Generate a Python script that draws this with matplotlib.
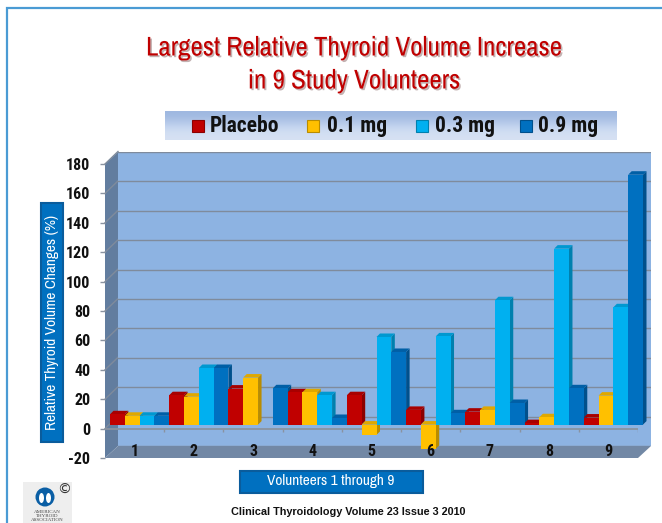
#Largest relative thyroid volume increase, fake 3D bar chart built from stacked axes
import numpy as np
import matplotlib
matplotlib.use('Agg')
import matplotlib.pyplot as plt
import matplotlib.patheffects as pe
from matplotlib import font_manager as fm
from matplotlib.patches import Rectangle, Polygon, Circle, Ellipse

#data
volunteers = ['1', '2', '3', '4', '5', '6', '7', '8', '9']
placebo = [7, 20, 24.5, 22, 20, 10, 8.8, 1, 4.8]
mg_01 = [6, 19, 32, 22, -7, -16.5, 10, 5, 19.7]
mg_03 = [6, 38.5, 0, 20, 59.6, 60, 84.6, 119.7, 79.8]
mg_09 = [6, 38.5, 24.7, 4.5, 49.4, 7.7, 14.7, 24.7, 170]
series_names = ['Placebo', '0.1 mg', '0.3 mg', '0.9 mg']
y_ticks = list(range(-20, 181, 20))

faces = ['#c00000', '#ffc000', '#00b0f0', '#0070c0']
sides = ['#8c0000', '#b98c00', '#0080ae', '#00508c']
caps = ['#a80000', '#dfa800', '#0098d0', '#005fa6']

W, H = 662, 523


#the original text is a narrow Arial, take the first narrow family that is there
def pick_font(names):
    installed = set(f.name for f in fm.fontManager.ttflist)
    for name in names:
        if name in installed:
            return name
    return 'Liberation Sans'


NARROW = pick_font(['Liberation Sans Narrow', 'Archivo Narrow', 'PT Sans Narrow', 'Roboto Condensed'])
#bold text and digits, PT Sans Narrow has old style digits so it comes last
NARROW_BOLD = pick_font(['Liberation Sans Narrow', 'Roboto Condensed', 'PT Sans Narrow'])
fig = plt.figure(figsize=(W / 100, H / 100), dpi=100, facecolor='white')


#helper, makes axes from pixel box (y measured from the top of the picture)
def px_axes(x0, y0, x1, y1, **kw):
    return fig.add_axes([x0 / W, 1 - y1 / H, (x1 - x0) / W, (y1 - y0) / H], **kw)


#page layer in pixel coordinates for frame, boxes, logo, text
page = px_axes(0, 0, W, H, zorder=0)
page.axis('off')
page.plot([7, 7, W], [H, 8, 8], color='#4a9bd4', lw=1.6, solid_joinstyle='miter')

page.text(354, 48, 'Largest Relative Thyroid Volume Increase', color='#c00000', fontsize=19.5,
          family=NARROW, ha='center', va='center',
          path_effects=[pe.withSimplePatchShadow(offset=(1.2, -1.2), alpha=0.3)])
page.text(354, 81, 'in 9 Study Volunteers', color='#c00000', fontsize=19.5,
          family=NARROW, ha='center', va='center',
          path_effects=[pe.withSimplePatchShadow(offset=(1.2, -1.2), alpha=0.3)])

#legend band with a soft gradient
band = np.array([[0.62, 0.72, 0.88], [0.70, 0.78, 0.91], [0.80, 0.86, 0.95], [0.84, 0.88, 0.95]])
page.imshow(band[:, None, :], extent=(165, 617, 140, 111), aspect='auto', interpolation='bicubic')
legend_x = [192, 307, 416, 520]
text_x = [210, 327, 435, 538]
for i in range(4):
    page.add_patch(Rectangle((legend_x[i], 120), 12, 12, fc=faces[i], ec=sides[i], lw=0.8))
    page.text(text_x[i], 126, series_names[i], fontsize=15.5, fontweight='bold', family=NARROW_BOLD,
              color='#111111', ha='left', va='center')

#left wall and floor of the box
page.add_patch(Polygon([(105, 164), (118, 152), (118, 446), (105, 458)], fc='#627d9f', ec='none'))
page.add_patch(Polygon([(105, 458), (638, 458), (651, 446), (118, 446)], fc='#7288a5', ec='none'))

#blue title boxes
page.add_patch(Rectangle((41, 203), 22, 239, fc='#0070c0', ec='#0a5c9c', lw=1.5))
page.text(52, 322, 'Relative Thyroid Volume Changes (%)', rotation=90, color='white', fontsize=11,
          family=NARROW, ha='center', va='center')
page.add_patch(Rectangle((240, 471), 183, 22, fc='#0070c0', ec='#0a5c9c', lw=1.5))
page.text(331, 481, 'Volunteers 1 through 9', color='white', fontsize=11,
          family=NARROW, ha='center', va='center')
page.text(348, 512, 'Clinical Thyroidology Volume 23 Issue 3 2010', color='#111111', fontsize=7.8,
          fontweight='bold', family='Liberation Sans', ha='center', va='center')

#logo in the corner
page.add_patch(Rectangle((23, 482), 49, 41, fc='#eeeeee', ec='none'))
page.add_patch(Circle((45, 497), 9.5, fc='#0b5fa5', ec='none'))
page.add_patch(Ellipse((41.5, 498), 5, 10, fc='white', ec='none'))
page.add_patch(Ellipse((48.5, 498), 5, 10, fc='white', ec='none'))
page.text(64, 490, '©', fontsize=10, color='#333333', ha='center', va='center')
page.text(47, 512, 'AMERICAN', fontsize=3.6, family='Liberation Serif', color='#444444', ha='center', va='center')
page.text(47, 516, 'THYROID', fontsize=3.6, family='Liberation Serif', color='#444444', ha='center', va='center')
page.text(47, 520, 'ASSOCIATION', fontsize=3.6, family='Liberation Serif', color='#444444', ha='center', va='center')
page.set_xlim(0, W)
page.set_ylim(H, 0)

#back wall, same y scale but shifted up and right
back = px_axes(118, 152, 651, 446, zorder=1, facecolor='#8db3e2')
back.set_xlim(0, 9)
back.set_ylim(-20, 180)
back.set_yticks(y_ticks)
back.set_xticks([])
back.tick_params(left=False, labelleft=False)
back.grid(axis='y', color='#7f8b9c', lw=1)
back.set_axisbelow(True)
for s in back.spines.values():
    s.set_visible(False)

#front plane, carries the tick labels and the line at zero
front = px_axes(105, 164, 638, 458, zorder=2)
front.patch.set_alpha(0)
front.set_xlim(0, 9)
front.set_ylim(-20, 180)
front.set_yticks(y_ticks)
front.set_yticklabels([str(v) for v in y_ticks], fontsize=11.5, fontweight='bold', family=NARROW_BOLD, color='#111111')
front.tick_params(axis='y', length=3.6, width=1, color='#8a93a0', pad=7)
front.set_xticks([])
for s in front.spines.values():
    s.set_visible(False)
front.axhline(0, color='#8a93a0', lw=1.3)
front.vlines(range(1, 10), -2.5, 0, color='#8a93a0', lw=1)

#diagonal gridlines on the left wall
for v in y_ticks[1:]:
    y0 = 164 + (180 - v) * 1.47
    page.plot([105, 118], [y0, y0 - 12.5], color='#7f8b9c', lw=1)

#bars, shifted a little into the box from the front plane
ax = px_axes(110, 160, 643, 454, zorder=3)
ax.patch.set_alpha(0)
ax.set_xlim(0, 9)
ax.set_ylim(-20, 180)
ax.axis('off')

bar_w = 0.25
dx = 3.5 / (533 / 9)
dy = 3.5 / 1.47
all_series = [placebo, mg_01, mg_03, mg_09]
z = 3
for c in range(len(volunteers)):
    for s in range(4):
        v = all_series[s][c]
        if v == 0:
            continue
        x0 = c + s * bar_w
        x1 = x0 + bar_w
        top = max(v, 0)
        low = min(v, 0)
        ax.fill([x1, x1 + dx, x1 + dx, x1], [low, low + dy, top + dy, top], color=sides[s], lw=0, zorder=z, clip_on=False)
        ax.fill([x0, x0 + dx, x1 + dx, x1], [top, top + dy, top + dy, top], color=caps[s], lw=0, zorder=z, clip_on=False)
        ax.bar(x0, v, width=bar_w, align='edge', color=faces[s], lw=0, zorder=z + 1, clip_on=False)
        z += 2

#category labels sit on the floor and over the bars
for c, name in enumerate(volunteers):
    ax.text(c + 0.5, -15.5, name, transform=front.transData, fontsize=11.5, fontweight='bold', family=NARROW_BOLD,
            color='#111111', ha='center', va='center', zorder=z + 5, clip_on=False)

fig.savefig('out.png', dpi=100)
